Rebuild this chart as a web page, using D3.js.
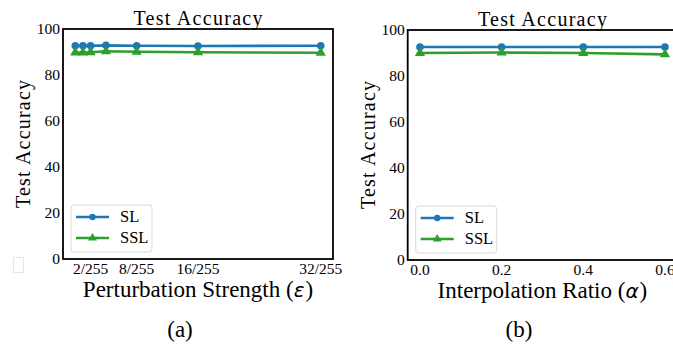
<!DOCTYPE html>
<html>
<head>
<meta charset="utf-8">
<script src="https://cdn.jsdelivr.net/npm/d3@7"></script>
<style>
  body { margin: 0; background: #fff; }
  svg { display: block; }
</style>
</head>
<body>
<div id="chart"></div>
<script>
// data
const epsValues = [0, 1, 2, 4, 8, 16, 32];          // in units of 1/255
const epsTicks = [2, 8, 16, 32];
const epsTickLabels = ['2/255', '8/255', '16/255', '32/255'];
const slEps = [92.7, 92.7, 92.7, 92.9, 92.7, 92.6, 92.7];
const sslEps = [89.8, 89.8, 89.9, 90.3, 90.1, 89.9, 89.7];

const alphaValues = [0.0, 0.2, 0.4, 0.6];
const alphaTicks = [0.0, 0.2, 0.4, 0.6];
const slAlpha = [92.6, 92.6, 92.6, 92.6];
const sslAlpha = [90.0, 90.2, 90.0, 89.4];

const yTicks = [0, 20, 40, 60, 80, 100];
const seriesNames = ['SL', 'SSL'];
const seriesColors = ['#1f77b4', '#2ca02c'];

const width = 673;
const height = 349;
const serif = 'Liberation Serif';

const svg = d3.select('#chart')
  .append('svg')
  .attr('width', width)
  .attr('height', height)
  .attr('font-family', serif);

// text helper: serif set both as attribute and inline style
function addText(parent, size) {
  return parent.append('text')
    .attr('font-family', serif)
    .style('font-family', serif)
    .attr('font-size', size)
    .attr('fill', '#000');
}

function drawPanel(cfg) {
  const x = d3.scaleLinear().domain(cfg.xDomain).range([cfg.left, cfg.right]);
  const y = d3.scaleLinear().domain([0, 100]).range([cfg.bottom, cfg.top]);
  const g = svg.append('g');

  // y tick labels
  yTicks.forEach(d => {
    addText(g, 15.5)
      .attr('x', cfg.left - 3)
      .attr('y', y(d) + 5)
      .attr('text-anchor', 'end')
      .text(d);
  });

  // x tick labels
  cfg.xTicks.forEach((d, i) => {
    addText(g, 15.5)
      .attr('x', x(d))
      .attr('y', cfg.bottom + 15)
      .attr('text-anchor', 'middle')
      .text(cfg.xTickLabels[i]);
  });

  // lines and markers
  const line = d3.line()
    .x((d, i) => x(cfg.xValues[i]))
    .y(d => y(d));

  cfg.series.forEach((vals, s) => {
    g.append('path')
      .datum(vals)
      .attr('fill', 'none')
      .attr('stroke', seriesColors[s])
      .attr('stroke-width', 2.6)
      .attr('d', line);

    if (s === 0) {
      g.append('g')
        .selectAll('circle')
        .data(vals)
        .enter()
        .append('circle')
        .attr('cx', (d, i) => x(cfg.xValues[i]))
        .attr('cy', d => y(d))
        .attr('r', 3.8)
        .attr('fill', seriesColors[s]);
    } else {
      g.append('g')
        .selectAll('path')
        .data(vals)
        .enter()
        .append('path')
        .attr('d', d3.symbol().type(d3.symbolTriangle).size(45))
        .attr('transform', (d, i) => `translate(${x(cfg.xValues[i])},${y(d)})`)
        .attr('fill', seriesColors[s]);
    }
  });

  // frame
  g.append('rect')
    .attr('x', cfg.left)
    .attr('y', cfg.top)
    .attr('width', cfg.right - cfg.left)
    .attr('height', cfg.bottom - cfg.top)
    .attr('fill', 'none')
    .attr('stroke', '#000')
    .attr('stroke-width', 1.8);

  // legend
  const lg = g.append('g').attr('transform', `translate(${cfg.left + 8},${cfg.bottom - 54})`);
  lg.append('rect')
    .attr('width', 81)
    .attr('height', 47)
    .attr('rx', 3)
    .attr('fill', '#fff')
    .attr('fill-opacity', 0.8)
    .attr('stroke', '#d9d9d9')
    .attr('stroke-width', 1);
  seriesNames.forEach((name, s) => {
    const yy = 12 + s * 21;
    lg.append('line')
      .attr('x1', 5).attr('x2', 38)
      .attr('y1', yy).attr('y2', yy)
      .attr('stroke', seriesColors[s])
      .attr('stroke-width', 2.6);
    if (s === 0) {
      lg.append('circle').attr('cx', 21.5).attr('cy', yy).attr('r', 3.2).attr('fill', seriesColors[s]);
    } else {
      lg.append('path')
        .attr('d', d3.symbol().type(d3.symbolTriangle).size(34))
        .attr('transform', `translate(21.5,${yy})`)
        .attr('fill', seriesColors[s]);
    }
    addText(lg, 16.5)
      .attr('x', 49)
      .attr('y', yy + 5)
      .text(name);
  });

  const cx = (cfg.left + cfg.right) / 2;
  const cy = (cfg.top + cfg.bottom) / 2;

  // title
  addText(g, 20)
    .attr('x', cx)
    .attr('y', cfg.top - 4)
    .attr('text-anchor', 'middle')
    .attr('textLength', 129)
    .text('Test Accuracy');

  // y label
  addText(g, 20)
    .attr('transform', `translate(${cfg.yLabelX},${cy}) rotate(-90)`)
    .attr('text-anchor', 'middle')
    .attr('textLength', 128)
    .text('Test Accuracy');

  // x label: words, then the math symbol as its own text, then ")"
  const ly = cfg.bottom + 38;
  const t1 = addText(g, 23).attr('y', ly).text(cfg.xLabel + ' (');
  const t2 = g.append('text')
    .attr('font-family', 'DejaVu Sans')
    .style('font-family', 'DejaVu Sans')
    .attr('font-style', 'italic')
    .attr('font-size', 20)
    .attr('y', ly)
    .text(cfg.symbol);
  const t3 = addText(g, 23).attr('y', ly).text(')');
  const w1 = t1.node().getComputedTextLength();
  const w2 = t2.node().getComputedTextLength();
  const w3 = t3.node().getComputedTextLength();
  const x0 = cx - (w1 + w2 + w3 + 1) / 2;
  t1.attr('x', x0);
  t2.attr('x', x0 + w1);
  t3.attr('x', x0 + w1 + w2 + 1);

  // caption
  addText(g, 23)
    .attr('x', cfg.captionX)
    .attr('y', 337)
    .attr('text-anchor', 'middle')
    .text(cfg.caption);
}

drawPanel({
  left: 63, right: 333, top: 29, bottom: 259,
  xDomain: [-1.6, 33.6],
  xValues: epsValues,
  xTicks: epsTicks,
  xTickLabels: epsTickLabels,
  series: [slEps, sslEps],
  xLabel: 'Perturbation Strength',
  symbol: 'ε',
  yLabelX: 30,
  caption: '(a)',
  captionX: 180
});

drawPanel({
  left: 407.7, right: 677.2, top: 30, bottom: 260,
  xDomain: [-0.03, 0.63],
  xValues: alphaValues,
  xTicks: alphaTicks,
  xTickLabels: alphaTicks.map(d => d.toFixed(1)),
  series: [slAlpha, sslAlpha],
  xLabel: 'Interpolation Ratio',
  symbol: 'α',
  yLabelX: 375,
  caption: '(b)',
  captionX: 519
});

// faint leftover box at the lower left edge of the figure
svg.append('rect')
  .attr('x', 13.5).attr('y', 257.5)
  .attr('width', 10).attr('height', 15)
  .attr('fill', 'none')
  .attr('stroke', '#e6e6e6');
</script>
</body>
</html>
